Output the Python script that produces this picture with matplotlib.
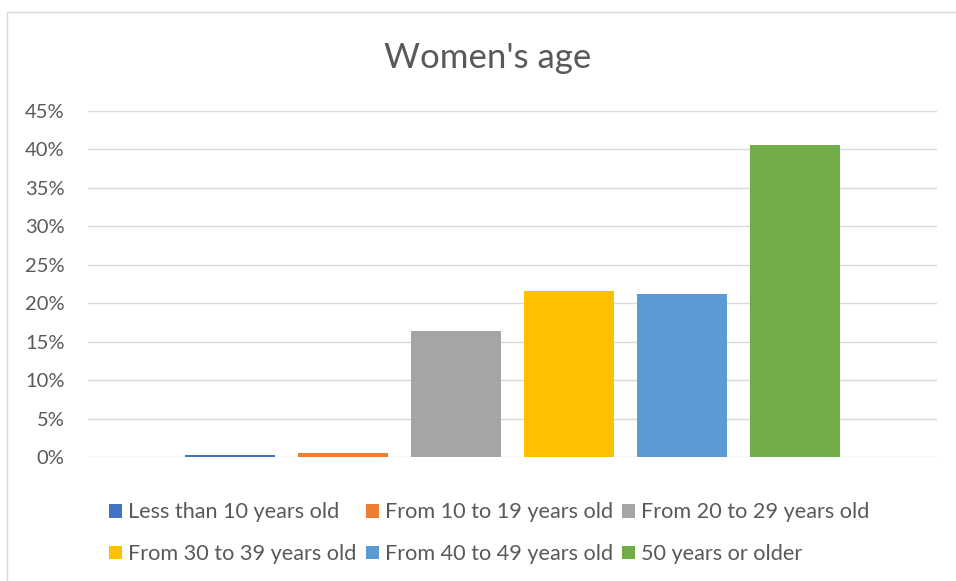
import matplotlib
matplotlib.use("Agg")
import matplotlib.pyplot as plt
from matplotlib.patches import Rectangle
from matplotlib.ticker import PercentFormatter

plt.rcParams['font.family'] = ['Lato', 'DejaVu Sans']

title = "Women's age"
series = ["Less than 10 years old", "From 10 to 19 years old", "From 20 to 29 years old",
          "From 30 to 39 years old", "From 40 to 49 years old", "50 years or older"]
values = [0.25, 0.55, 16.45, 21.65, 21.15, 40.55]
colors = ["#4472C4", "#ED7D31", "#A5A5A5", "#FFC000", "#5B9BD5", "#70AD47"]
yticks = [0, 5, 10, 15, 20, 25, 30, 35, 40, 45]

W, H = 956, 581
fig = plt.figure(figsize=(W / 100, H / 100), dpi=100)
fig.patch.set_facecolor("white")

# chart border (Excel chart area)
fig.patches.append(Rectangle((6.5 / W, -0.1), 1.2, 1 - 12.5 / H + 0.1,
                             transform=fig.transFigure, fill=False,
                             edgecolor="#D9D9D9", linewidth=1.0))

ax = fig.add_axes([88 / W, (H - 457) / H, 849 / W, 346 / H])
handles = []
for i, (name, v, c) in enumerate(zip(series, values, colors)):
    b = ax.bar(i, v, width=0.796, color=c, label=name, zorder=3)
    handles.append(b)

ax.set_xlim(-1.257, 6.257)
ax.set_ylim(0, 45)
ax.set_yticks(yticks)
ax.yaxis.set_major_formatter(PercentFormatter(decimals=0))
ax.set_xticks([])
ax.grid(axis="y", color="#D9D9D9", linewidth=1.0, zorder=0)
for s in ["left", "right", "top", "bottom"]:
    ax.spines[s].set_visible(False)
ax.tick_params(axis="y", length=0, pad=17, labelsize=14.5, labelcolor="#595959")

fig.text(488 / W, 1 - 58 / H, title, ha="center", va="center",
         fontsize=25, color="#595959")

order = [0, 3, 1, 4, 2, 5]
leg = fig.legend([handles[k] for k in order], [series[k] for k in order],
                 ncol=3, loc="upper left", bbox_to_anchor=(109 / W, 1 - 502.5 / H),
                 frameon=False, fontsize=15.6, labelcolor="#595959",
                 borderpad=0, borderaxespad=0,
                 handlelength=0.6, handleheight=0.6, handletextpad=0.3,
                 columnspacing=0.4, labelspacing=1.0)

fig.savefig("out.png", dpi=100, facecolor="white")
